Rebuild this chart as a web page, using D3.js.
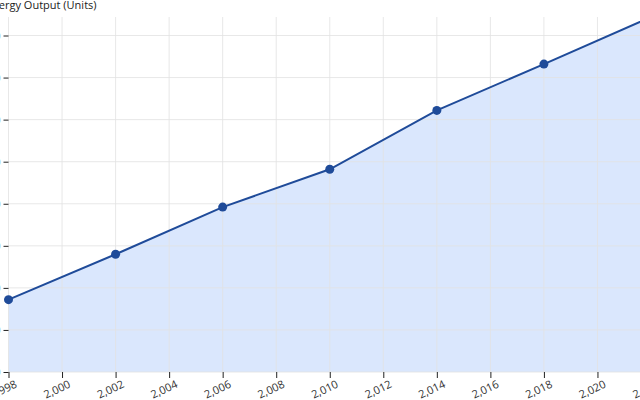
<!DOCTYPE html>
<html>
<head>
    <meta charset="utf-8">
    <title>Energy Output</title>
    <style type="text/css">
        body { margin: 0; background: #fff; }
        svg { display: block; overflow: hidden; }
        .axis text { font-family: "Open Sans", sans-serif; font-size: 11px; fill: #333; }
        .axis line { stroke: #222; }
        .grid line { stroke: #e3e3e3; stroke-width: 1; }
        .axis-title { font-family: "Open Sans", sans-serif; font-size: 11px; fill: #222; }
    </style>
</head>
<body>
<script src="https://cdn.jsdelivr.net/npm/d3@7"></script>
<script>
    /*=========DATA=========*/
    var years = [1998, 2002, 2006, 2010, 2014, 2018, 2022];
    var output = [86, 140, 196, 241, 311, 366, 422];
    var yTitle = "Energy Output (Units)";

    /*=========SIZE=========*/
    var svgWidth = 640, svgHeight = 400;
    var margin = { top: 17, right: -11, bottom: 28, left: 8.5 };
    var width = svgWidth - margin.left - margin.right;
    var height = svgHeight - margin.top - margin.bottom;

    var data = years.map((y, i) => ({ year: y, value: output[i] }));

    // scales
    var xScale = d3.scaleLinear().domain([1998, 2022]).range([0, width]);
    var yScale = d3.scaleLinear().domain([0, d3.max(output)]).range([height, 0]);

    var xTicks = d3.range(1998, 2023, 2);
    var yTicks = d3.range(0, 401, 50);

    var svg = d3.select("body").append("svg")
        .attr("width", svgWidth).attr("height", svgHeight);

    var g = svg.append("g")
        .attr("transform", "translate(" + margin.left + "," + margin.top + ")");

    // area
    var area = d3.area()
        .x(d => xScale(d.year))
        .y0(height)
        .y1(d => yScale(d.value));
    g.append("path")
        .datum(data)
        .attr("d", area)
        .attr("fill", "#dae7fd");

    // grid
    var grid = g.append("g").attr("class", "grid");
    grid.selectAll(".gx").data(xTicks).enter().append("line")
        .attr("x1", d => xScale(d)).attr("x2", d => xScale(d))
        .attr("y1", 0).attr("y2", height)
        .attr("opacity", 0.8);
    grid.selectAll(".gy").data(yTicks).enter().append("line")
        .attr("x1", 0).attr("x2", width)
        .attr("y1", d => yScale(d)).attr("y2", d => yScale(d))
        .attr("opacity", 0.8);

    // axes
    var xAxis = d3.axisBottom(xScale).tickValues(xTicks).tickSize(6).tickFormat(d3.format(","));
    var xg = g.append("g").attr("class", "axis")
        .attr("transform", "translate(0," + height + ")")
        .call(xAxis);
    xg.select(".domain").remove();
    xg.selectAll("text")
        .attr("text-anchor", "end")
        .attr("dx", "0.15em")
        .attr("dy", "0.75em")
        .attr("transform", "rotate(-25)");

    var yAxis = d3.axisLeft(yScale).tickValues(yTicks).tickSize(5);
    var yg = g.append("g").attr("class", "axis").call(yAxis);
    yg.select(".domain").remove();

    // line
    var line = d3.line()
        .x(d => xScale(d.year))
        .y(d => yScale(d.value));
    g.append("path")
        .datum(data)
        .attr("d", line)
        .attr("fill", "none")
        .attr("stroke", "#1f4b99")
        .attr("stroke-width", 2);

    // points
    g.selectAll(".dot").data(data).enter().append("circle")
        .attr("class", "dot")
        .attr("cx", d => xScale(d.year))
        .attr("cy", d => yScale(d.value))
        .attr("r", 4.5)
        .attr("fill", "#1f4b99");

    // y title
    svg.append("text")
        .attr("class", "axis-title")
        .attr("x", -14)
        .attr("y", 9)
        .text(yTitle);
</script>
</body>
</html>
